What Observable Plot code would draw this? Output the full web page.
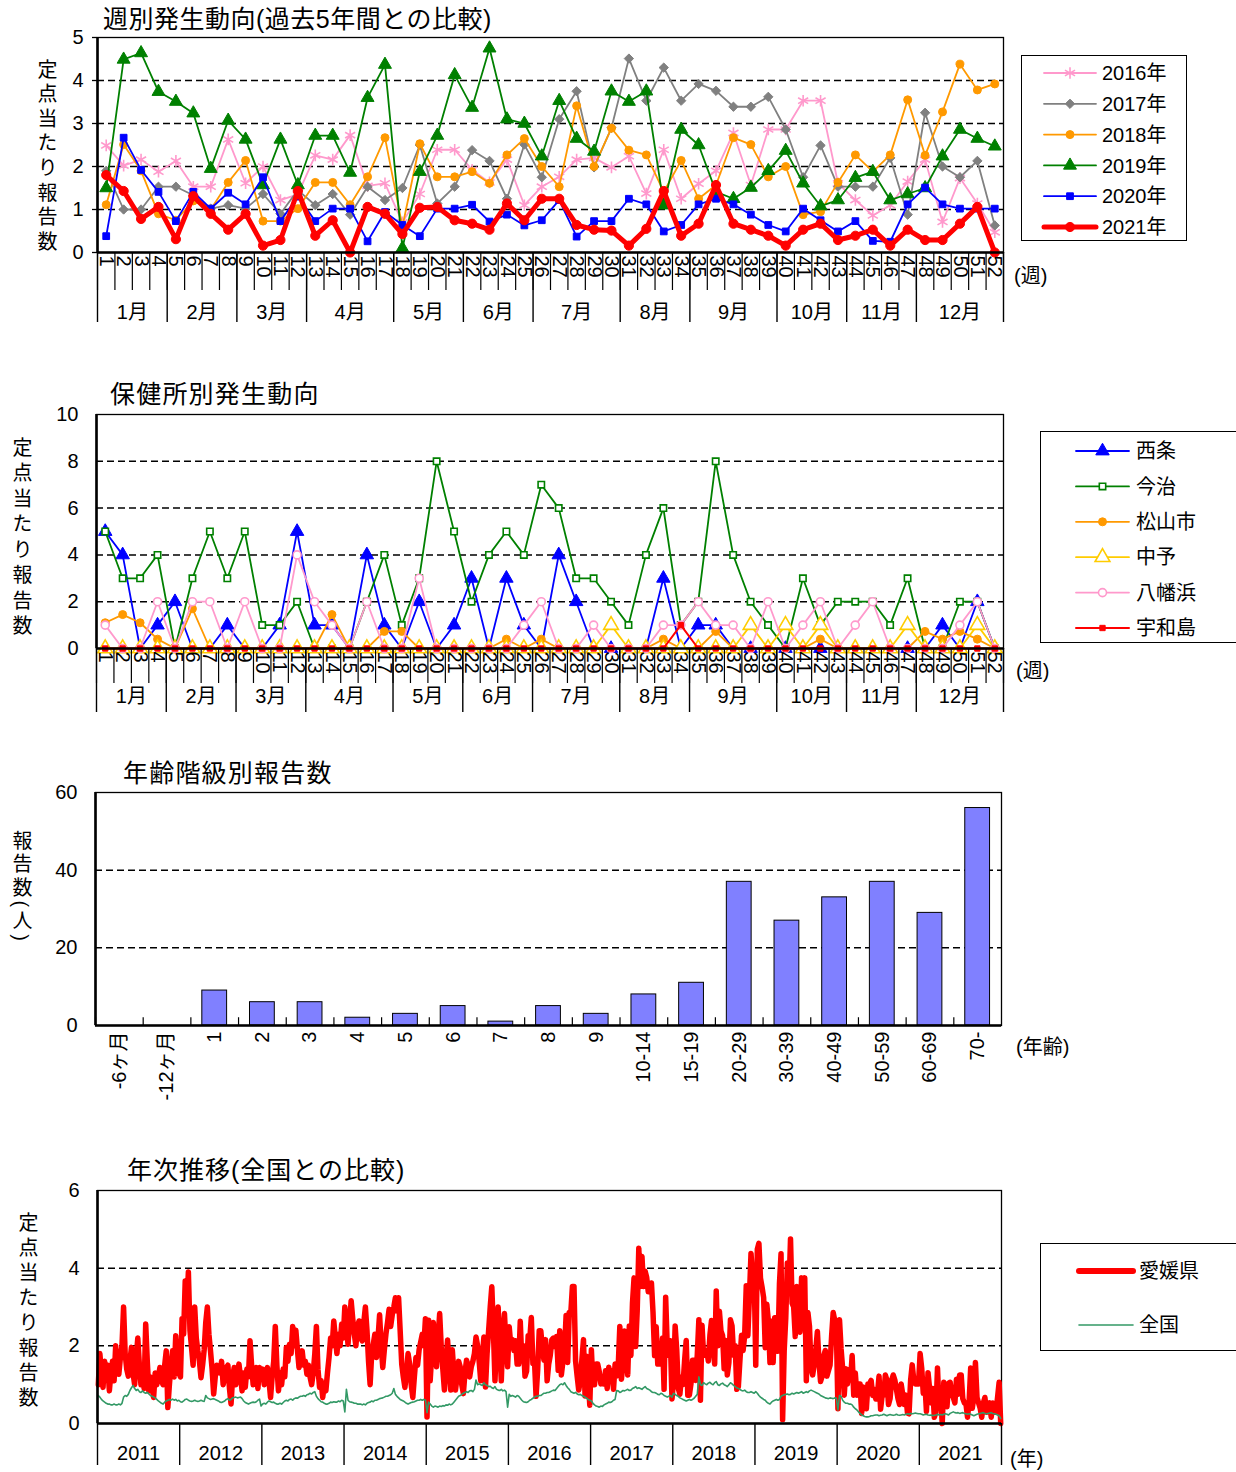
<!DOCTYPE html>
<html><head><meta charset="utf-8">
<script src="https://cdn.jsdelivr.net/npm/d3@7"></script>
<script src="https://cdn.jsdelivr.net/npm/@observablehq/plot@0.6"></script>
<style>
body{margin:0;background:#fff;font-family:"Liberation Sans","Noto Sans CJK JP",sans-serif;color:#000;}
#page{position:relative;width:1236px;height:1472px;overflow:hidden;background:#fff;}
.t{position:absolute;white-space:nowrap;line-height:1;}
.ylab{position:absolute;writing-mode:vertical-rl;line-height:1;font-size:20px;}
.legend{position:absolute;border:1.6px solid #000;background:#fff;box-sizing:border-box;}
</style></head><body><div id="page"></div>
<script>
// ---------- DATA ----------
const weeks = [1,2,3,4,5,6,7,8,9,10,11,12,13,14,15,16,17,18,19,20,21,22,23,24,25,26,27,28,29,30,31,32,33,34,35,36,37,38,39,40,41,42,43,44,45,46,47,48,49,50,51,52];
const months = ["1月","2月","3月","4月","5月","6月","7月","8月","9月","10月","11月","12月"];
const monthEndWeek = [4,8,12,17,21,25,30,34,39,43,47,52];

// Panel 1: Ehime weekly per-sentinel counts by year
const y2016 = [2.49,2.02,2.16,1.88,2.13,1.53,1.53,2.63,1.61,2.0,1.22,1.35,2.26,2.16,2.73,1.55,1.61,0.7,1.36,2.39,2.39,1.92,1.63,2.16,1.1,1.53,1.76,2.16,2.2,1.98,2.24,1.37,2.39,1.25,1.6,1.9,2.78,1.57,2.86,2.86,3.53,3.53,1.61,1.22,0.86,1.1,1.65,2.16,0.71,1.73,1.14,0.47];
const y2017 = [1.9,1.0,1.0,1.53,1.53,1.33,1.02,1.1,1.02,1.36,0.9,1.45,1.1,1.36,0.88,1.53,1.22,1.5,2.5,1.14,1.53,2.38,2.13,1.25,2.51,1.75,3.1,3.75,1.98,2.9,4.51,3.53,4.3,3.53,3.92,3.76,3.39,3.39,3.62,2.86,1.75,2.49,1.53,1.53,1.53,2.2,0.88,3.25,2.0,1.75,2.13,0.63];
const y2018 = [1.11,2.51,1.9,0.9,0.75,1.2,1.0,1.63,2.14,0.73,0.73,1.02,1.63,1.63,1.11,1.76,2.67,0.6,2.53,1.76,1.76,1.88,1.61,2.27,2.65,2.0,1.53,3.41,2.0,2.89,2.38,2.27,1.41,2.14,1.25,1.57,2.67,2.51,1.76,2.0,0.88,0.95,1.63,2.27,1.88,2.27,3.55,2.26,3.27,4.38,3.78,3.92];
const y2019 = [1.5,4.49,4.64,3.74,3.51,3.24,1.95,3.07,2.63,1.57,2.63,1.57,2.72,2.72,1.86,3.6,4.37,0.1,1.88,2.72,4.13,3.37,4.75,3.1,3.0,2.24,3.53,2.65,2.35,3.75,3.51,3.75,1.1,2.86,2.5,1.41,1.25,1.51,1.9,2.37,1.61,1.08,1.22,1.74,1.88,1.22,1.36,1.5,2.24,2.86,2.65,2.47];
const y2020 = [0.38,2.67,1.92,1.41,0.73,1.41,1.02,1.39,1.12,1.75,0.73,1.3,0.73,1.02,1.02,0.26,0.94,0.64,0.38,1.02,1.02,1.11,0.72,0.88,0.63,0.75,1.22,0.37,0.73,0.73,1.25,1.12,0.49,0.64,1.12,1.25,1.12,0.88,0.64,0.49,1.02,0.75,0.49,0.73,0.27,0.25,1.12,1.51,1.12,1.02,1.02,1.02];
const y2021 = [1.8,1.43,0.78,1.06,0.31,1.31,0.9,0.53,0.9,0.16,0.29,1.43,0.39,0.75,0.0,1.06,0.9,0.43,1.04,1.06,0.75,0.67,0.53,1.14,0.75,1.25,1.25,0.64,0.53,0.51,0.16,0.55,1.43,0.39,0.67,1.57,0.67,0.53,0.39,0.16,0.53,0.67,0.29,0.39,0.53,0.16,0.53,0.29,0.29,0.67,1.06,0.0];

// Panel 2: by health center (2021)
const saijo      = [5,4,0,1,2,0,0,1,0,0,1,5,1,1,0,4,1,0,2,0,1,3,0,3,1,0,4,2,0,0,0,0,3,0,1,1,0,0,0,0,0,0,0,0,0,0,0,0,1,0,2,0];
const imabari    = [5,3,3,4,0,3,5,3,5,1,1,2,0,0,0,2,4,1,3,8,5,2,4,5,4,7,6,3,3,2,1,4,6,1,2,8,4,2,1,0,3,1,2,2,2,1,3,0,0,2,2,0];
const matsuyama  = [1.1,1.45,1.1,0.4,0,1.7,0,0,0,0,0,0,0,1.45,0,0,0.73,0.73,0,0,0,0,0,0.4,0,0.4,0,0,0,0,0,0,0.4,0,0,0.73,0,0,0,0,0,0.4,0,0,0,0,0,0.73,0.4,0.73,0.4,0];
const chuyo      = [0,0,0,0,0,0,0,0,0,0,0,0,0,0,0,0,0,0,0,0,0,0,0,0,0,0,0,0,0,1,0,0,0,0,0,0,0,1,0,1,0,1,0,0,0,0,1,0,0,0,1,0];
const yawatahama = [1,0,0,2,0,2,2,0,2,0,0,4,2,1,0,2,0,0,3,0,0,0,0,0,1,2,0,0,1,0,0,0,1,1,2,1,1,0,2,0,1,2,0,1,2,0,0,0,0,1,2,0];
const uwajima    = [0,0,0,0,0,0,0,0,0,0,0,0,0,0,0,0,0,0,0,0,0,0,0,0,0,0,0,0,0,0,0,0,0,1,0,0,0,0,0,0,0,0,0,0,0,0,0,0,0,0,0,0];

// Panel 3: reports by age group
const ageCats = ["-6ヶ月","-12ヶ月","1","2","3","4","5","6","7","8","9","10-14","15-19","20-29","30-39","40-49","50-59","60-69","70-"];
const ageCounts = [0,0,9,6,6,2,3,5,1,5,3,8,11,37,27,33,37,29,56];

// Panel 4: yearly trend, Ehime vs national (weekly)
const years = [2011,2012,2013,2014,2015,2016,2017,2018,2019,2020,2021];
const e2011 = [1.0,1.8,1.3,0.93,1.6,1.2,1.5,0.84,1.3,1.6,1.1,2.0,1.5,1.27,1.7,2.0,3.0,1.8,1.4,1.22,1.6,1.96,1.3,1.0,1.7,2.2,1.5,1.0,1.4,0.9,2.56,1.6,0.84,1.2,1.0,0.67,1.3,1.0,1.2,1.44,1.1,1.0,1.5,1.87,0.41,1.0,1.5,1.87,1.2,2.26,1.6,1.3];
const e2012 = [1.2,2.7,2.3,3.67,3.0,3.9,2.4,1.96,1.5,3.0,2.2,1.87,1.6,1.18,1.5,1.9,2.6,3.0,2.3,1.87,1.4,0.76,1.2,1.5,1.44,1.3,1.6,1.0,1.2,1.44,1.5,0.9,0.5,1.2,1.44,1.0,1.3,1.53,1.2,0.84,1.3,0.93,1.4,1.2,2.13,1.5,1.0,1.3,1.44,0.9,1.44,1.2];
const e2013 = [1.4,1.0,1.3,1.44,1.1,0.67,1.2,1.6,2.5,1.5,0.84,1.3,1.0,1.4,1.2,1.96,1.6,2.04,1.8,2.5,2.0,2.4,1.9,1.44,1.6,1.87,1.5,1.6,1.27,1.5,1.2,1.0,1.3,1.8,2.5,1.4,0.93,1.1,0.67,1.0,0.84,1.3,1.7,2.2,2.0,2.64,2.2,1.8,2.3,2.0,2.56,2.2];
const e2014 = [3.0,2.5,2.04,2.6,3.16,2.7,2.3,2.0,2.5,2.64,2.2,2.13,2.6,3.0,2.4,1.6,1.0,1.8,2.04,2.3,1.7,2.2,2.8,2.0,1.44,1.9,2.3,2.6,2.94,2.5,2.8,3.0,3.24,2.9,3.24,2.4,1.53,1.2,0.93,1.3,1.8,1.53,1.0,0.67,1.2,1.7,1.5,1.9,2.1,2.3,2.0,2.7];
const e2015 = [0.17,2.66,1.1,1.8,2.6,2.0,1.46,2.2,2.83,1.97,1.4,0.86,1.6,2.15,1.5,0.86,1.9,1.3,0.86,1.2,1.6,1.46,1.0,0.77,1.3,1.63,1.5,1.2,1.46,1.6,1.8,2.23,2.0,1.6,1.1,1.7,2.23,0.94,1.8,2.4,3.0,3.52,2.4,1.1,2.2,3.0,2.0,1.1,2.3,2.83,2.0,1.46];
const n2011 = [0.72,0.68,0.62,0.58,0.55,0.52,0.5,0.5,0.48,0.48,0.5,0.48,0.48,0.5,0.48,0.52,0.68,0.72,0.7,0.75,0.85,0.92,0.98,0.9,0.85,0.88,0.82,0.8,0.84,0.8,0.78,0.8,0.76,0.72,0.7,0.68,0.66,0.62,0.58,0.55,0.52,0.5,0.55,0.58,0.6,0.62,0.6,0.63,0.6,0.62,0.58,0.6];
const n2012 = [0.56,0.55,0.58,0.62,0.63,0.6,0.58,0.57,0.58,0.6,0.58,0.57,0.58,0.6,0.58,0.57,0.72,0.66,0.64,0.62,0.63,0.64,0.62,0.6,0.58,0.55,0.54,0.56,0.58,0.62,0.64,0.6,0.62,0.66,0.67,0.68,0.66,0.67,0.68,0.64,0.58,0.54,0.52,0.5,0.52,0.54,0.55,0.54,0.56,0.6,0.63,0.45];
const n2013 = [0.5,0.52,0.5,0.55,0.58,0.56,0.54,0.55,0.52,0.5,0.5,0.52,0.5,0.54,0.58,0.6,0.58,0.62,0.63,0.6,0.64,0.66,0.65,0.68,0.7,0.7,0.72,0.7,0.74,0.75,0.78,0.76,0.8,0.82,0.7,0.64,0.6,0.56,0.55,0.52,0.5,0.5,0.52,0.55,0.54,0.56,0.55,0.55,0.58,0.56,0.6,0.58];
const n2014 = [0.3,0.88,0.6,0.56,0.55,0.54,0.52,0.52,0.5,0.5,0.5,0.48,0.5,0.48,0.52,0.54,0.55,0.58,0.56,0.6,0.6,0.62,0.64,0.65,0.66,0.68,0.7,0.7,0.72,0.74,0.78,0.9,0.75,0.7,0.66,0.62,0.6,0.58,0.55,0.52,0.5,0.52,0.54,0.55,0.56,0.58,0.6,0.6,0.62,0.6,0.62,0.6];
const n2015 = [0.28,0.55,0.5,0.45,0.42,0.45,0.44,0.42,0.45,0.44,0.46,0.45,0.48,0.47,0.5,0.48,0.5,0.55,0.6,0.65,0.7,0.72,0.75,0.78,0.8,0.82,0.8,0.84,0.85,0.82,0.88,1.12,1.0,1.02,1.0,0.98,1.05,1.0,0.98,0.95,0.96,0.92,0.9,0.95,0.88,0.86,0.85,0.88,0.84,0.86,0.82,0.42];
const n2016 = [0.75,0.7,0.72,0.7,0.68,0.72,0.7,0.65,0.6,0.56,0.55,0.54,0.56,0.6,0.62,0.65,0.68,0.7,0.7,0.72,0.72,0.75,0.78,0.78,0.8,0.8,0.82,0.84,0.86,0.85,0.9,0.95,1.0,1.02,1.0,1.05,0.98,0.92,0.88,0.82,0.8,0.78,0.8,0.76,0.74,0.75,0.72,0.7,0.68,0.65,0.62,0.6];
const n2017 = [0.58,0.52,0.48,0.45,0.44,0.42,0.45,0.44,0.48,0.5,0.52,0.55,0.54,0.56,0.6,0.62,0.85,0.84,0.8,0.82,0.85,0.84,0.86,0.88,0.85,0.86,0.9,0.92,0.95,0.9,0.92,0.9,0.88,0.92,0.95,0.9,0.88,0.86,0.82,0.8,0.8,0.78,0.75,0.74,0.78,0.76,0.72,0.7,0.68,0.7,0.72,0.68];
const n2018 = [0.78,0.75,0.72,0.7,0.66,0.64,0.62,0.6,0.58,0.6,0.62,0.6,0.62,0.65,0.7,0.75,1.2,1.0,0.98,1.05,1.02,1.0,1.04,1.06,1.02,1.0,1.05,1.08,1.0,0.98,1.02,1.04,1.0,0.98,0.95,1.0,1.05,1.02,0.98,0.95,0.92,0.9,0.88,0.85,0.84,0.86,0.82,0.8,0.8,0.82,0.8,0.78];
const n2019 = [0.82,0.78,0.72,0.68,0.65,0.62,0.6,0.55,0.52,0.5,0.55,0.58,0.6,0.62,0.6,0.62,0.7,0.72,0.74,0.75,0.76,0.74,0.75,0.78,0.76,0.78,0.8,0.78,0.8,0.82,0.78,0.8,0.82,0.8,0.84,0.86,0.84,0.82,0.8,0.78,0.76,0.72,0.7,0.68,0.66,0.65,0.64,0.66,0.65,0.64,0.66,0.65];
const n2020 = [0.35,0.72,0.7,0.6,0.55,0.52,0.52,0.5,0.5,0.48,0.42,0.38,0.35,0.3,0.26,0.22,0.2,0.18,0.17,0.17,0.18,0.2,0.2,0.21,0.22,0.22,0.2,0.21,0.22,0.24,0.22,0.2,0.22,0.23,0.22,0.21,0.22,0.24,0.22,0.21,0.22,0.23,0.22,0.24,0.25,0.24,0.26,0.25,0.26,0.27,0.26,0.25];
const n2021 = [0.25,0.24,0.22,0.23,0.24,0.22,0.21,0.22,0.2,0.21,0.22,0.24,0.22,0.23,0.22,0.24,0.25,0.24,0.22,0.26,0.28,0.3,0.28,0.27,0.28,0.26,0.27,0.28,0.26,0.25,0.24,0.25,0.24,0.22,0.2,0.22,0.24,0.25,0.26,0.27,0.28,0.26,0.25,0.26,0.27,0.28,0.26,0.25,0.24,0.22,0.2,0.13];

// ---------- LAYOUT HELPERS ----------
const FONT = '"Liberation Sans","Noto Sans CJK JP",sans-serif';
const page = document.getElementById("page");
function put(el, left, top){ el.style.position="absolute"; el.style.left=left+"px"; el.style.top=top+"px"; page.appendChild(el); return el; }
function text(txt, left, top, size, cls="t", extra=""){ const d=document.createElement("div"); d.className=cls; d.textContent=txt; d.style.cssText+=`font-size:${size}px;${extra}`; return put(d,left,top); }
function symbolPath(sym, r){ const map={circle:d3.symbolCircle,square:d3.symbolSquare,triangle:d3.symbolTriangle,diamond2:d3.symbolDiamond2,asterisk:d3.symbolAsterisk};
  return d3.symbol(map[sym], r*r*Math.PI)(); }
function legend(items, left, top, w, h, opt){
  const box=document.createElement("div"); box.className="legend"; box.style.width=w+"px"; box.style.height=h+"px";
  let svg=`<svg width="${w}" height="${h}" style="position:absolute;left:0;top:0;overflow:visible">`;
  items.forEach((s,i)=>{ const cy=opt.y0+i*opt.dy;
    svg+=`<line x1="${opt.x1}" x2="${opt.x2}" y1="${cy}" y2="${cy}" stroke="${s.color}" stroke-width="${s.lw}" stroke-linecap="round"/>`;
    if(s.symbol) svg+=`<path transform="translate(${(opt.x1+opt.x2)/2},${cy})" d="${symbolPath(s.symbol,s.r)}" fill="${s.fill}" stroke="${s.stroke}" stroke-width="${s.sw||1}"/>`;
    svg+=`<text x="${opt.tx}" y="${cy}" dy="0.36em" font-size="${opt.fs}" font-family='${FONT}'>${s.name}</text>`;
  });
  box.innerHTML=svg+"</svg>"; return put(box,left,top);
}
function seriesMarks(s, xs){
  const data = s.values.map((v,i)=>({x:xs[i], y:v}));
  const m=[Plot.line(data,{x:"x",y:"y",stroke:s.color,strokeWidth:s.lw,strokeLinejoin:"round"})];
  if(s.symbol) m.push(Plot.dot(data,{x:"x",y:"y",symbol:s.symbol,r:s.r,fill:s.fill,stroke:s.stroke,strokeWidth:s.sw||1}));
  return m;
}
function weekAxisMarks(unitPx, weekLen, monthLen, monthDy){
  const weekBounds=[0,...weeks].map(w=>w+0.5);
  const monthBounds=[0,...monthEndWeek].map(w=>w+0.5);
  const monthMid=monthEndWeek.map((e,i)=>((i?monthEndWeek[i-1]:0)+e)/2+0.5);
  return [
    Plot.ruleX(weekBounds,{x:d=>d,y1:0,y2:-weekLen/unitPx,stroke:"#000",strokeWidth:1.2}),
    Plot.ruleX(monthBounds,{x:d=>d,y1:0,y2:-monthLen/unitPx,stroke:"#000",strokeWidth:1.4}),
    Plot.text(weeks,{x:d=>d,y:()=>0,text:d=>String(d),rotate:90,textAnchor:"start",lineAnchor:"middle",dy:3,fontSize:20}),
    Plot.text(months,{x:(d,i)=>monthMid[i],y:()=>0,text:d=>d,dy:monthDy,fontSize:20})
  ];
}
const svgStyle={fontFamily:FONT,background:"transparent",overflow:"visible",color:"#000"};
const yAxis=(ticks,size,pad)=>Plot.axisY({ticks,tickSize:size,tickPadding:pad,fontSize:20,strokeWidth:1.3,label:null,tickFormat:"d"});
const grid=(vals)=>Plot.ruleY(vals,{stroke:"#000",strokeWidth:1.5,strokeDasharray:"7,4"});

// ---------- PANEL 1 ----------
const s1=[
 {name:"2016年",values:y2016,color:"#ff99cc",lw:1.8,symbol:"asterisk",r:5.5,fill:"none",stroke:"#ff99cc",sw:1.6},
 {name:"2017年",values:y2017,color:"#808080",lw:1.8,symbol:"diamond2",r:4.2,fill:"#808080",stroke:"#808080"},
 {name:"2018年",values:y2018,color:"#ff9900",lw:1.8,symbol:"circle",r:4,fill:"#ff9900",stroke:"#ff9900"},
 {name:"2019年",values:y2019,color:"#008000",lw:1.8,symbol:"triangle",r:4.8,fill:"#008000",stroke:"#008000"},
 {name:"2020年",values:y2020,color:"#0000ff",lw:1.8,symbol:"square",r:3.8,fill:"#0000ff",stroke:"#0000ff"},
 {name:"2021年",values:y2021,color:"#ff0000",lw:5,symbol:"circle",r:4.6,fill:"#ff0000",stroke:"#ff0000"}
];
const p1=Plot.plot({width:1010,height:330,marginLeft:97,marginRight:7,marginTop:37,marginBottom:78,
  style:svgStyle,
  x:{domain:[0.5,52.5],axis:null}, y:{domain:[0,5],axis:null},
  marks:[
    grid([1,2,3,4]),
    Plot.frame({stroke:"#000",strokeWidth:1.3}),
    yAxis([0,1,2,3,4,5],5,9),
    ...s1.flatMap(s=>seriesMarks(s,weeks)),
    Plot.ruleX([0.5],{stroke:"#000",strokeWidth:2.6}),
    Plot.ruleY([0],{stroke:"#000",strokeWidth:2.6}),
    ...weekAxisMarks(215/5,38,70,60)
  ]});
put(p1,0,0);
text("週別発生動向(過去5年間との比較)",103,7,25,"t","letter-spacing:0.5px");
text("定点当たり報告数",36,59,20,"ylab","letter-spacing:4.6px");
text("(週)",1014,266,20);
legend(s1,1021,55,166,186,{y0:17,dy:30.8,x1:22,x2:74,tx:80,fs:20});

// ---------- PANEL 2 ----------
const s2=[
 {name:"西条",values:saijo,color:"#0000ff",lw:1.8,symbol:"triangle",r:5,fill:"#0000ff",stroke:"#0000ff"},
 {name:"今治",values:imabari,color:"#008000",lw:1.8,symbol:"square",r:3.6,fill:"#fff",stroke:"#008000",sw:1.6},
 {name:"松山市",values:matsuyama,color:"#ff9900",lw:1.8,symbol:"circle",r:4,fill:"#ff9900",stroke:"#ff9900"},
 {name:"中予",values:chuyo,color:"#ffcc00",lw:1.8,symbol:"triangle",r:5.5,fill:"#fff",stroke:"#ffcc00",sw:1.6},
 {name:"八幡浜",values:yawatahama,color:"#ff99cc",lw:1.8,symbol:"circle",r:4,fill:"#fff",stroke:"#ff99cc",sw:1.6},
 {name:"宇和島",values:uwajima,color:"#ff0000",lw:2,symbol:"square",r:3,fill:"#ff0000",stroke:"#ff0000"}
];
const p2=Plot.plot({width:1010,height:320,marginLeft:96,marginRight:7,marginTop:14,marginBottom:72,
  style:svgStyle,
  x:{domain:[0.5,52.5],axis:null}, y:{domain:[0,10],axis:null},
  marks:[
    grid([2,4,6,8]),
    Plot.frame({stroke:"#000",strokeWidth:1.3}),
    yAxis([0,2,4,6,8,10],0,18),
    ...s2.flatMap(s=>seriesMarks(s,weeks)),
    Plot.ruleX([0.5],{stroke:"#000",strokeWidth:2.6}),
    Plot.ruleY([0],{stroke:"#000",strokeWidth:2.6}),
    ...weekAxisMarks(234/10,35,64,48)
  ]});
put(p2,0,400);
text("保健所別発生動向",110,382,25,"t","letter-spacing:1.2px");
text("定点当たり報告数",11,437,20,"ylab","letter-spacing:5.5px");
text("(週)",1016,661,20);
legend(s2,1040,431,200,212,{y0:19,dy:35.4,x1:35,x2:88,tx:95,fs:20});

// ---------- PANEL 3 ----------
const plot3W=906, step3=plot3W/ageCats.length;
const ageData=ageCats.map((c,i)=>({cat:c,count:ageCounts[i]}));
const p3=Plot.plot({width:1010,height:330,marginLeft:95,marginRight:9,marginTop:12,marginBottom:85,
  style:svgStyle,
  x:{domain:ageCats,paddingInner:0.48,paddingOuter:0.24,round:false,axis:null}, y:{domain:[0,60],axis:null},
  marks:[
    grid([20,40]),
    Plot.frame({stroke:"#000",strokeWidth:1.3}),
    yAxis([0,20,40,60],0,18),
    Plot.barY(ageData,{x:"cat",y:"count",fill:"#8080ff",stroke:"#000",strokeWidth:1}),
    Plot.ruleX(ageCats,{x:d=>d,y1:0,y2:2,dx:-step3/2,stroke:"#000",strokeWidth:1.2}),
    Plot.ruleX([ageCats[0]],{x:d=>d,dx:-step3/2,stroke:"#000",strokeWidth:2.6}),
    Plot.ruleY([0],{stroke:"#000",strokeWidth:2.6}),
    Plot.text(ageCats,{x:d=>d,y:()=>0,text:d=>d,rotate:-90,textAnchor:"end",lineAnchor:"middle",dy:6,fontSize:20})
  ]});
put(p3,0,780);
text("年齢階級別報告数",123,761,25,"t","letter-spacing:1.2px");
text("報告数(人)",11,830,20,"ylab","letter-spacing:3.5px");
text("(年齢)",1016,1037,20);

// ---------- PANEL 4 ----------
const ehimeByYear=[e2011,e2012,e2013,e2014,e2015,y2016,y2017,y2018,y2019,y2020,y2021];
const nationalByYear=[n2011,n2012,n2013,n2014,n2015,n2016,n2017,n2018,n2019,n2020,n2021];
const toSeries=arrs=>years.flatMap((yr,j)=>arrs[j].map((v,i)=>({t:yr+(i+0.5)/arrs[j].length,v})));
const ehime=toSeries(ehimeByYear), national=toSeries(nationalByYear);
const yearBounds=[...years,years[years.length-1]+1];
const p4=Plot.plot({width:1010,height:292,marginLeft:97,marginRight:9,marginTop:10,marginBottom:49,
  style:svgStyle,
  x:{domain:[years[0],years[years.length-1]+1],axis:null}, y:{domain:[0,6],axis:null},
  marks:[
    grid([2,4]),
    Plot.frame({stroke:"#000",strokeWidth:1.3}),
    yAxis([0,2,4,6],0,18),
    Plot.line(ehime,{x:"t",y:"v",stroke:"#ff0000",strokeWidth:5.5,strokeLinejoin:"round"}),
    Plot.line(national,{x:"t",y:"v",stroke:"#339966",strokeWidth:1.6}),
    Plot.ruleX([years[0]],{stroke:"#000",strokeWidth:2.6}),
    Plot.ruleY([0],{stroke:"#000",strokeWidth:2.6}),
    Plot.ruleX(yearBounds,{x:d=>d,y1:0,y2:-42/(233/6),stroke:"#000",strokeWidth:1.4}),
    Plot.text(years,{x:d=>d+0.5,y:()=>0,text:d=>String(d),dy:30,fontSize:20})
  ]});
put(p4,0,1180);
text("年次推移(全国との比較)",127,1158,25,"t","letter-spacing:1px");
text("定点当たり報告数",17,1212,20,"ylab","letter-spacing:5px");
text("(年)",1010,1449,20);
legend([
 {name:"愛媛県",color:"#ff0000",lw:6},
 {name:"全国",color:"#339966",lw:1.6}
],1040,1243,200,108,{y0:27,dy:54,x1:38,x2:92,tx:98,fs:20});
</script></body></html>
